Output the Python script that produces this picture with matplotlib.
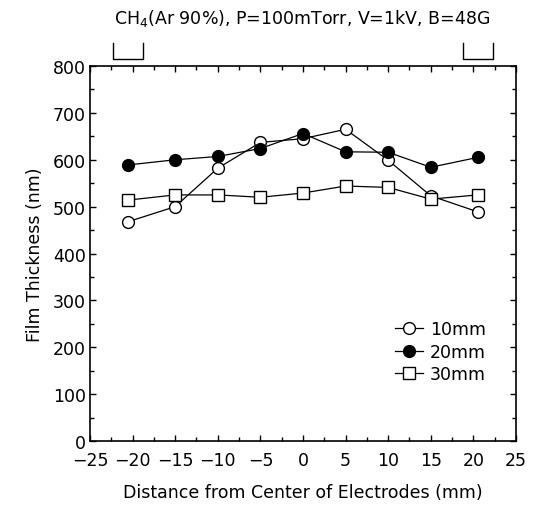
import matplotlib
matplotlib.use("Agg")
import matplotlib.pyplot as plt
import matplotlib.transforms as mtransforms
from matplotlib.ticker import MultipleLocator

positions = [-20.5, -15, -10, -5, 0, 5, 10, 15, 20.5]
thick_10mm = [468, 500, 582, 637, 645, 665, 599, 523, 489]
thick_20mm = [589, 600, 607, 624, 656, 617, 616, 584, 605]
thick_30mm = [514, 525, 525, 520, 529, 544, 541, 516, 525]
series_labels = ["10mm", "20mm", "30mm"]
electrodes = [(-22.3, -18.8), (18.8, 22.3)]

plt.rcParams['font.family'] = ['DejaVu Sans']
fig = plt.figure(figsize=(5.42, 5.10), dpi=100)
ax = fig.add_axes([0.166, 0.1333, 0.786, 0.7353])

ax.plot(positions, thick_10mm, '-o', color='black', mfc='white', mec='black',
        ms=8.5, lw=0.9, label=series_labels[0], zorder=3)
ax.plot(positions, thick_20mm, '-o', color='black', mfc='black', mec='black',
        ms=8.5, lw=0.9, label=series_labels[1], zorder=3)
ax.plot(positions, thick_30mm, '-s', color='black', mfc='white', mec='black',
        ms=8.5, lw=0.9, label=series_labels[2], zorder=3)

for (a, b) in electrodes:
    ax.plot([a, a, b, b], [850, 815, 815, 850], color='black', lw=1.0, clip_on=False)

ax.set_xlim(-25, 25)
ax.set_ylim(0, 800)
ax.xaxis.set_major_locator(MultipleLocator(5))
ax.xaxis.set_minor_locator(MultipleLocator(2.5))
ax.yaxis.set_major_locator(MultipleLocator(100))
ax.yaxis.set_minor_locator(MultipleLocator(50))
ax.tick_params(which='both', direction='in', top=True, right=True, labelsize=12.5, width=1)
ax.tick_params(which='major', length=4)
ax.tick_params(which='minor', length=3)
ax.tick_params(axis='x', pad=7)
ax.tick_params(axis='y', pad=3)
for s in ax.spines.values():
    s.set_linewidth(1.2)

ax.set_xlabel("Distance from Center of Electrodes (mm)", fontsize=12.5, labelpad=10)
ax.set_ylabel("Film Thickness (nm)", fontsize=12.5, labelpad=6)

fig.canvas.draw()
ylabels = ax.get_yticklabels()
shift = mtransforms.ScaledTranslation(0, 4 / 72, fig.dpi_scale_trans)
ylabels[0].set_transform(ylabels[0].get_transform() + shift)

fig.text(0.558, 0.963, "CH$_4$(Ar 90%), P=100mTorr, V=1kV, B=48G",
         ha='center', va='center', fontsize=12.5)

leg = ax.legend(loc='upper left', bbox_to_anchor=(0.7, 0.34), frameon=False,
                fontsize=12.5, handlelength=1.6, handletextpad=0.4,
                labelspacing=0.25, borderaxespad=0)

fig.savefig("out.png", dpi=100)
